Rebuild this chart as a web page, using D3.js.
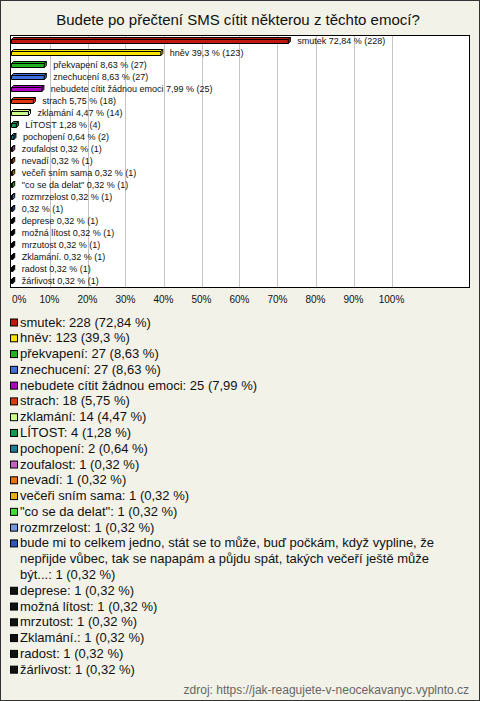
<!DOCTYPE html>
<html><head><meta charset="utf-8">
<script src="https://cdn.jsdelivr.net/npm/d3@7"></script>
<style>
html,body{margin:0;padding:0;background:#f3f2e9;}
svg{display:block;font-family:Arial,"Liberation Sans",sans-serif;}
</style></head>
<body>
<script>
const title = "Budete po přečtení SMS cítit některou z těchto emocí?";
const categories = ["smutek","hněv","překvapení","znechucení","nebudete cítit žádnou emoci","strach","zklamání","LÍTOST","pochopení","zoufalost","nevadí","večeři sním sama","\"co se da delat\"","rozmrzelost","bude mi to celkem jedno, stát se to může, buď počkám, když vypline, že nepřijde vůbec, tak se napapám a půjdu spát, takých večeří ještě může být...","deprese","možná lítost","mrzutost","Zklamání.","radost","žárlivost"];
const counts = [228,123,27,27,25,18,14,4,2,1,1,1,1,1,1,1,1,1,1,1,1];
const percents = [72.84,39.3,8.63,8.63,7.99,5.75,4.47,1.28,0.64,0.32,0.32,0.32,0.32,0.32,0.32,0.32,0.32,0.32,0.32,0.32,0.32];
const colors = ["#c0170e","#f7e300","#1fb31f","#3f6fe0","#b000c8","#e0380c","#ccff88","#129a55","#1a7e94","#c462c4","#e8720f","#e6b200","#44dd33","#7799dd","#3355bb","#111111","#111111","#111111","#111111","#111111","#111111"];
const xTicks = [0,10,20,30,40,50,60,70,80,90,100];
const source = "zdroj: https://jak-reagujete-v-neocekavanyc.vyplnto.cz";

const W = 480, H = 701;
const svg = d3.select("body").append("svg").attr("width", W).attr("height", H);
svg.append("rect").attr("x",0.5).attr("y",0.5).attr("width",W-1).attr("height",H-1)
  .attr("fill","#f3f2e9").attr("stroke","#333");

svg.append("text").attr("x",238).attr("y",25).attr("text-anchor","middle")
  .attr("font-size",15).attr("fill","#111").text(title);

const plot = {l:10.5, t:35.5, r:469.5, b:287.5};
svg.append("rect").attr("x",plot.l).attr("y",plot.t).attr("width",plot.r-plot.l).attr("height",plot.b-plot.t)
  .attr("fill","#fff");

const x = d3.scaleLinear().domain([0,100]).range([11.5,391.5]);
const y = d3.scaleBand().domain(d3.range(categories.length)).range([35,287]);

svg.append("g").selectAll("line").data(xTicks.slice(1)).join("line")
  .attr("x1",d=>Math.round(x(d))+0.5).attr("x2",d=>Math.round(x(d))+0.5)
  .attr("y1",plot.t).attr("y2",plot.b).attr("stroke","#c4c4c4");

svg.append("rect").attr("x",plot.l).attr("y",plot.t).attr("width",plot.r-plot.l).attr("height",plot.b-plot.t)
  .attr("fill","none").attr("stroke","#000");

const fmt = p => String(p).replace(".",",");
const d = 2;
const bars = svg.append("g");
categories.forEach((c,i)=>{
  const cy = y(i) + y.bandwidth()/2;
  const x0 = x(0), x1 = x(percents[i]);
  const top = cy - 1.5, bot = cy + 2.5;
  const g = bars.append("g").attr("fill",colors[i]).attr("stroke","#000").attr("stroke-width",1).attr("stroke-linejoin","round");
  g.append("polygon").attr("points",[[x0,top],[x0+d,top-d],[x1+d,top-d],[x1,top]].join(" "));
  g.append("polygon").attr("points",[[x1,top],[x1+d,top-d],[x1+d,bot-d],[x1,bot]].join(" "));
  g.append("rect").attr("x",x0).attr("y",top).attr("width",Math.max(0,x1-x0)).attr("height",bot-top);
  const name = c.length > 60 ? "" : c + " ";
  bars.append("text").attr("x",x1+d+7).attr("y",cy+2.5).attr("font-size",9).attr("fill","#111")
    .text(name + fmt(percents[i]) + " % (" + counts[i] + ")");
});

svg.append("g").selectAll("text").data(xTicks).join("text")
  .attr("x",(t,i)=> i===0 ? 12 : x(t)).attr("y",303)
  .attr("text-anchor",(t,i)=> i===0 ? "start" : "middle")
  .attr("font-size",10).attr("fill","#111").text(t=>t+"%");

// legend
const lh = 15.78;
const fs = 13;
let line = 0;
const leg = svg.append("g");
const maxW = 432;
categories.forEach((c,i)=>{
  const cy = 322 + line*lh;
  leg.append("rect").attr("x",10.5).attr("y",cy-3).attr("width",7).attr("height",7)
    .attr("fill",colors[i]).attr("stroke","#000");
  const full = c + ": " + counts[i] + " (" + fmt(percents[i]) + " %)";
  const words = full.split(" ");
  let cur = "";
  const lines = [];
  const probe = leg.append("text").attr("font-size",fs);
  words.forEach(w=>{
    const test = cur ? cur + " " + w : w;
    probe.text(test);
    if (probe.node().getComputedTextLength() > maxW && cur) { lines.push(cur); cur = w; }
    else cur = test;
  });
  lines.push(cur);
  probe.remove();
  lines.forEach((t,k)=>{
    leg.append("text").attr("x",20).attr("y",322 + (line+k)*lh + 4.5)
      .attr("font-size",fs).attr("fill","#111").text(t);
  });
  line += lines.length;
});

svg.append("text").attr("x",469).attr("y",694).attr("text-anchor","end")
  .attr("font-size",12).attr("fill","#666").text(source);
</script>
</body></html>
